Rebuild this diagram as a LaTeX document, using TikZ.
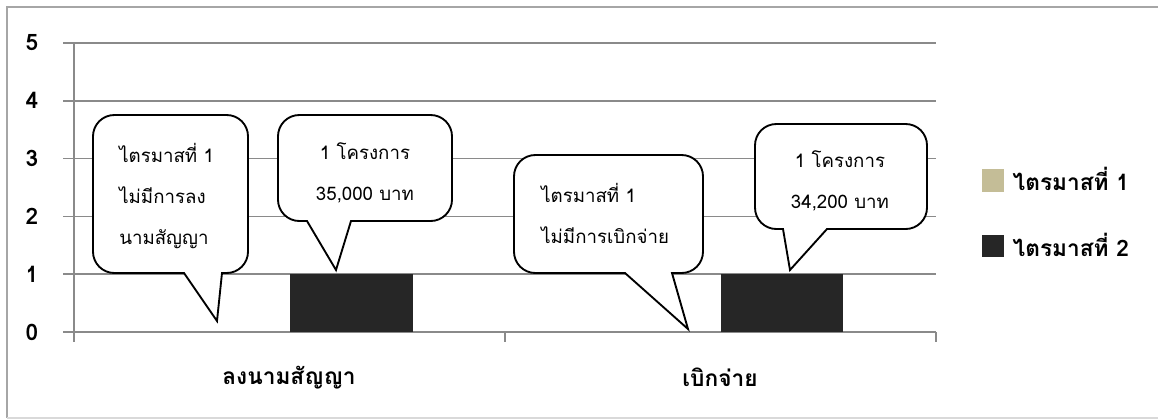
\documentclass[tikz,border=0pt]{standalone}
\usepackage{fontspec}
\setmainfont[Script=Thai]{Loma}
\usepackage{tikz}
\usetikzlibrary{positioning}
\definecolor{darkbar}{HTML}{262626}
\definecolor{tanbar}{HTML}{C4BD97}
\definecolor{gridgray}{HTML}{8A8A8A}

\begin{document}
\begin{tikzpicture}[x=0.75pt,y=-0.75pt,
  grid/.style={draw=gridgray,line width=1.2pt},
  callout/.style={draw=black,line width=1.4pt,fill=white,line join=miter},
  ticklabel/.style={font=\fontsize{17}{19}\selectfont\bfseries},
  note/.style={font=\fontsize{14}{30.75}\selectfont,inner sep=0pt}]
\useasboundingbox (0,0) rectangle (1158,419);
\draw[gray!70,line width=1pt] (1158,7) -- (7,7) -- (7,418);
\draw[gray!30,line width=1pt] (7,418) -- (1158,418);
% value axis
\foreach \v in {0,...,5} {
  \draw[grid] (63,{332-57.8*\v}) -- (936,{332-57.8*\v});
  \node[ticklabel] (y\v) at (32,{332-57.8*\v}) {\v};
}
\draw[grid] (74,43) -- (74,342);
\draw[grid] (505,332) -- (505,342);
\draw[grid] (936,332) -- (936,342);
% bars
\fill[darkbar] (290,274) rectangle (413,332);
\fill[darkbar] (721,274) rectangle (843,332);
\node[ticklabel] (cat1) at (289,378) {ลงนามสัญญา};
\node[ticklabel] (cat2) at (720,377) {เบิกจ่าย};
% callouts
\draw[callout] (184,273) -- (217,321) -- (222,273) [rounded corners=16] -- (248,273) -- (248,115) -- (93,115) -- (93,273) [sharp corners] -- cycle;
\node[note,anchor=west,align=left] (q1sign) at (119,196) {ไตรมาสที่ 1\\ไม่มีการลง\\นามสัญญา};
\draw[callout] (307,221) -- (336,270) -- (351,221) [rounded corners=16] -- (452,221) -- (452,115) -- (278,115) -- (278,221) [sharp corners] -- cycle;
\node[note,align=center] (q2sign) at (365,173) {1 โครงการ\\35,000 บาท};
\draw[callout] (625,273) -- (688,329) -- (672,273) [rounded corners=16] -- (703,273) -- (703,155) -- (514,155) -- (514,273) [sharp corners] -- cycle;
\node[note,anchor=west,align=left] (q1pay) at (541,213) {ไตรมาสที่ 1\\ไม่มีการเบิกจ่าย};
\draw[callout] (783,229) -- (790,270) -- (827,229) [rounded corners=16] -- (927,229) -- (927,124) -- (755,124) -- (755,229) [sharp corners] -- cycle;
\node[note,align=center] (q2pay) at (840,181) {1 โครงการ\\34,200 บาท};
% legend
\fill[tanbar] (982,169) rectangle (1004,192);
\node[ticklabel,anchor=west] (leg1) at (1008,179) {ไตรมาสที่ 1};
\fill[darkbar] (982,235) rectangle (1004,257);
\node[ticklabel,anchor=west] (leg2) at (1008,245) {ไตรมาสที่ 2};
\end{tikzpicture}
\end{document}
